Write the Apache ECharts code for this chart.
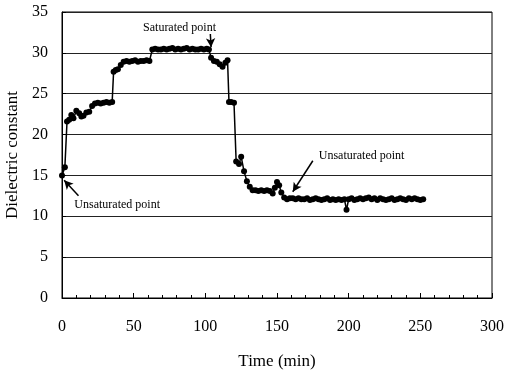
<!DOCTYPE html>
<html>
<head>
<meta charset="utf-8">
<script src="https://cdn.jsdelivr.net/npm/echarts@6/dist/echarts.min.js"></script>
<style>
  html, body { margin: 0; padding: 0; background: #fff; }
  #chart { width: 508px; height: 370px; }
</style>
</head>
<body>
<div id="chart"></div>
<script>
// time in minutes
const timeMin = [
  0, 2, 3.5, 5, 6.5, 8, 10, 12, 13.5, 15,
  17, 19, 21, 23, 25, 27, 29, 31, 33, 35,
  36, 37.5, 39, 41, 43, 45, 47, 49, 51, 53,
  55, 57, 59, 61, 63, 65, 67, 69, 71, 73,
  75, 77, 79, 81, 83, 85, 87, 89, 91, 93,
  95, 97, 99, 101, 102.5, 104, 106, 108, 110, 112,
  114, 115.5, 116.5, 118, 120, 121.5, 123.5, 125, 127, 129,
  131, 133, 135, 137, 139, 141, 143, 145, 147, 148.5,
  150, 151.5, 153, 155, 157, 159, 161, 163, 165, 167,
  169, 171, 173, 175, 177, 179, 181, 183, 185, 187,
  189, 191, 193, 195, 197, 198.5, 200, 202, 204, 206,
  208, 210, 212, 214, 216, 218, 220, 222, 224, 226,
  228, 230, 232, 234, 236, 238, 240, 242, 244, 246,
  248, 250, 252
];
// dielectric constant
const dielectric = [
  15.0, 16.0, 21.6, 21.8, 22.4, 22.0, 22.9, 22.6, 22.2, 22.3,
  22.7, 22.8, 23.5, 23.8, 23.9, 23.8, 23.9, 24.0, 23.9, 24.0,
  27.7, 27.9, 28.0, 28.5, 28.9, 29.0, 28.9, 29.0, 29.1, 28.9,
  29.0, 29.0, 29.1, 29.0, 30.4, 30.5, 30.4, 30.4, 30.5, 30.4,
  30.5, 30.6, 30.4, 30.5, 30.4, 30.5, 30.6, 30.4, 30.5, 30.4,
  30.4, 30.5, 30.4, 30.5, 30.4, 29.4, 29.0, 28.9, 28.6, 28.3,
  28.8, 29.1, 24.0, 24.0, 23.9, 16.7, 16.4, 17.3, 15.5, 14.3,
  13.6, 13.2, 13.2, 13.1, 13.2, 13.1, 13.2, 13.1, 12.8, 13.5,
  14.2, 13.8, 12.9, 12.3, 12.1, 12.2, 12.2, 12.1, 12.2, 12.1,
  12.1, 12.2, 12.0, 12.1, 12.2, 12.1, 12.0, 12.1, 12.2, 12.0,
  12.1, 12.0, 12.1, 12.0, 12.1, 10.8, 12.1, 12.2, 12.0, 12.1,
  12.2, 12.1, 12.2, 12.3, 12.1, 12.2, 12.0, 12.2, 12.1, 12.0,
  12.1, 12.2, 12.0, 12.1, 12.2, 12.1, 12.0, 12.2, 12.1, 12.2,
  12.1, 12.0, 12.1
];

// annotation labels and arrows, in data coordinates
const notes = [
  { text: "Saturated point", at: [82, 33.0] },
  { text: "Unsaturated point", at: [38.5, 11.4] },
  { text: "Unsaturated point", at: [209, 17.4] }
];
const arrows = [
  [[103.5, 32.3], [104, 30.7]],
  [[11.5, 12.5], [1.5, 14.4]],
  [[175, 16.8], [161, 13.0]]
];

const font = "'Liberation Serif', 'Times New Roman', serif";
const chart = echarts.init(document.getElementById("chart"));

chart.setOption({
  animation: false,
  textStyle: { fontFamily: font, color: "#000" },
  grid: {
    left: 62, right: 16, top: 12, bottom: 72,
    outerBoundsMode: "none",
    containLabel: false,
    show: true, borderColor: "#000", borderWidth: 1
  },
  xAxis: {
    type: "value",
    min: 0, max: 300, interval: 50,
    name: "Time (min)",
    nameLocation: "middle",
    nameGap: 55,
    nameTextStyle: { fontFamily: font, fontSize: 17, color: "#000" },
    axisLine: { lineStyle: { color: "#000", width: 1 } },
    axisTick: { inside: true, length: 5, lineStyle: { color: "#000" } },
    minorTick: { show: true, splitNumber: 5, length: 3, lineStyle: { color: "#000" } },
    axisLabel: { fontFamily: font, fontSize: 16, color: "#000", margin: 21 },
    splitLine: { show: false }
  },
  yAxis: {
    type: "value",
    min: 0, max: 35, interval: 5,
    name: "Dielectric constant",
    nameLocation: "middle",
    nameGap: 36,
    nameTextStyle: { fontFamily: font, fontSize: 17, color: "#000" },
    axisLine: { show: true, lineStyle: { color: "#000", width: 1 } },
    axisTick: { inside: true, length: 4, lineStyle: { color: "#000" } },
    axisLabel: { fontFamily: font, fontSize: 16, color: "#000", margin: 14 },
    splitLine: { show: true, lineStyle: { color: "#222", width: 1 } }
  },
  series: [{
    type: "line",
    data: timeMin.map((t, i) => [t, dielectric[i]]),
    symbol: "circle",
    symbolSize: 6,
    showAllSymbol: true,
    lineStyle: { color: "#000", width: 1.5 },
    itemStyle: { color: "#000" },
    markPoint: {
      symbol: "circle",
      symbolSize: 0,
      label: {
        show: true, position: "inside",
        fontFamily: font, fontSize: 12, color: "#000",
        formatter: p => p.name
      },
      data: notes.map(n => ({ name: n.text, coord: n.at }))
    },
    markLine: {
      silent: true,
      symbol: ["none", "arrow"],
      symbolSize: [7, 9],
      label: { show: false },
      lineStyle: { color: "#000", width: 1.5, type: "solid" },
      data: arrows.map(a => [{ coord: a[0] }, { coord: a[1] }])
    }
  }]
});
</script>
</body>
</html>
